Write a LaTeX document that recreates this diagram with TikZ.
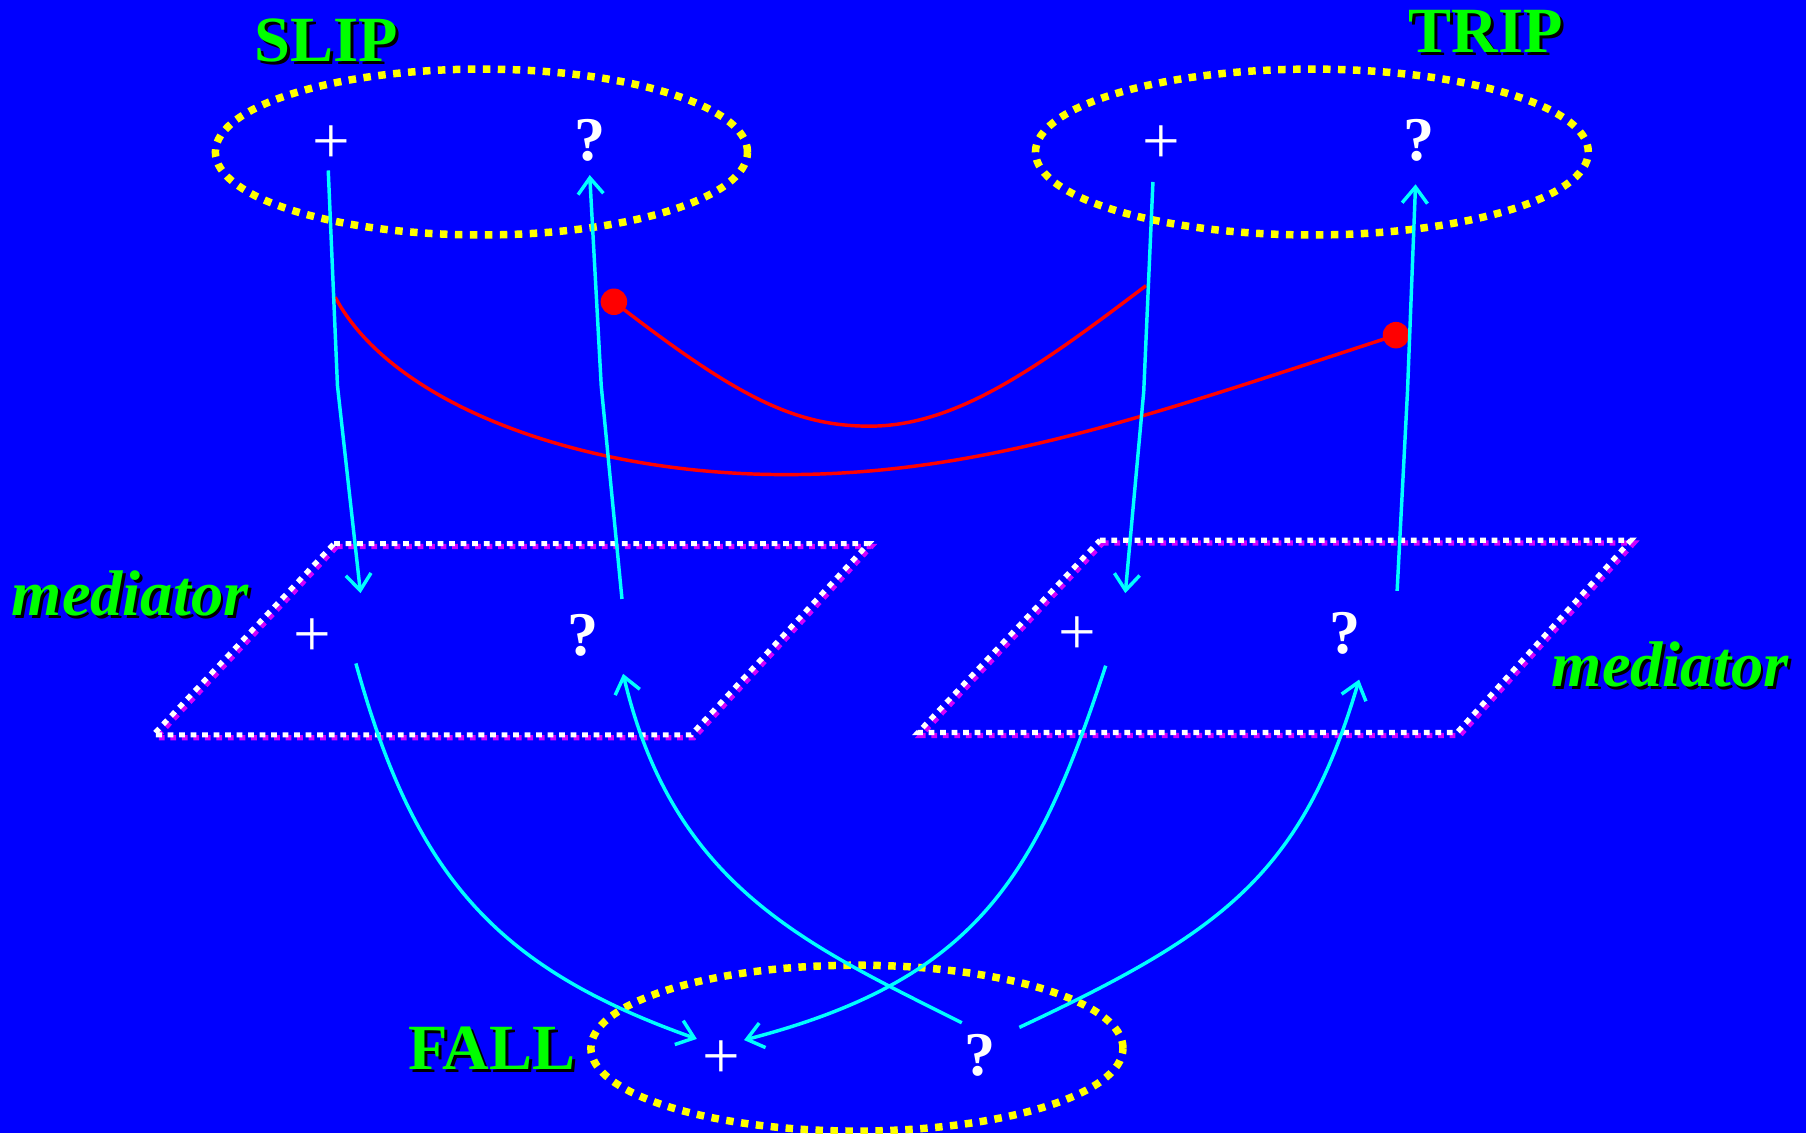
\documentclass[tikz,border=0pt]{standalone}
\usepackage{fontspec}
\setmainfont{Liberation Serif}
\usetikzlibrary{arrows.meta,shapes.geometric}
\definecolor{bg}{RGB}{0,0,255}
\definecolor{cy}{RGB}{0,255,255}
\definecolor{gr}{RGB}{0,255,0}
\definecolor{yl}{RGB}{255,255,0}
\definecolor{rd}{RGB}{255,0,0}
\definecolor{mg}{RGB}{210,0,255}
\tikzset{
  oval/.style={ellipse,draw=yl,line width=6.5pt,dash pattern=on 6.5pt off 6.5pt,minimum width=462pt,minimum height=144pt,inner sep=0pt},
  bigtxt/.style={font=\fontsize{56}{60}\selectfont\bfseries,inner sep=0pt},
  medtxt/.style={font=\fontsize{56}{60}\selectfont\bfseries\itshape,inner sep=0pt},
  grlbl/.style={text=gr},
  shlbl/.style={text=black,xshift=2.5pt,yshift=-2.5pt},
  plus/.style={text=white,font=\fontsize{58}{58}\selectfont,inner sep=0pt},
  qm/.style={text=white,font=\fontsize{54}{54}\selectfont\bfseries,inner sep=0pt},
  cyarr/.style={draw=cy,line width=3pt,-{Straight Barb[length=14pt,width=22pt,line width=3pt]}},
  redl/.style={draw=rd,line width=3pt},
  reddot/.style={circle,fill=rd,minimum size=23pt,inner sep=0pt},
  pshadow/.style={draw=mg,line width=4.5pt,dash pattern=on 5pt off 5pt},
  pfront/.style={draw=white,line width=4.5pt,dash pattern=on 5pt off 5pt},
  sh/.style={xshift=2.5pt,yshift=-2.5pt},
}
\begin{document}
\begin{tikzpicture}[x=1pt,y=-1pt]
\useasboundingbox (0,0) rectangle (1568,984);
\fill[bg] (0,0) rectangle (1568,984);

% parallelograms
\coordinate (L1) at (290,472); \coordinate (L2) at (754,472);
\coordinate (L3) at (600,638); \coordinate (L4) at (133,638);
\coordinate (R1) at (955,469); \coordinate (R2) at (1416,469);
\coordinate (R3) at (1265,636); \coordinate (R4) at (797,636);
\draw[pshadow] ([sh]L1) -- ([sh]L2) -- ([sh]L3) -- ([sh]L4) -- cycle;
\draw[pshadow] ([sh]R1) -- ([sh]R2) -- ([sh]R3) -- ([sh]R4) -- cycle;
\draw[pfront] (L1) -- (L2) -- (L3) -- (L4) -- cycle;
\draw[pfront] (R1) -- (R2) -- (R3) -- (R4) -- cycle;

% ellipses
\node[oval] (slipE) at (418,132) {};
\node[oval,minimum width=480pt] (tripE) at (1139,132) {};
\node[oval] (fallE) at (744,910) {};

% labels
\node[bigtxt,shlbl] at (283,35) {SLIP};
\node[bigtxt,grlbl] (slip) at (283,35) {SLIP};
\node[bigtxt,shlbl] at (1290,27) {TRIP};
\node[bigtxt,grlbl] (trip) at (1290,27) {TRIP};
\node[bigtxt,shlbl] at (427,910) {FALL};
\node[bigtxt,grlbl] (fall) at (427,910) {FALL};
\node[medtxt,shlbl] at (113,515) {mediator};
\node[medtxt,grlbl] (medL) at (113,515) {mediator};
\node[medtxt,shlbl] at (1450,577) {mediator};
\node[medtxt,grlbl] (medR) at (1450,577) {mediator};

% symbols
\node[plus] (sp) at (288,126) {+};
\node[qm] (sq) at (512,122) {?};
\node[plus] (tp) at (1008,126) {+};
\node[qm] (tq) at (1232,122) {?};
\node[plus] (lp) at (271,554) {+};
\node[qm] (lq) at (506,552) {?};
\node[plus] (rp) at (935,552) {+};
\node[qm] (rq) at (1168,550) {?};
\node[plus] (fp) at (626,920) {+};
\node[qm] (fq) at (851,916) {?};

% connector end points
\coordinate (a1s) at (285,148); \coordinate (a1m) at (293,335); \coordinate (a1e) at (313,515);
\coordinate (a2s) at (540,520); \coordinate (a2m) at (522,335); \coordinate (a2e) at (512,152);
\coordinate (a3s) at (1001,158); \coordinate (a3m) at (993,340); \coordinate (a3e) at (977,515);
\coordinate (a4s) at (1213,513); \coordinate (a4m) at (1222,340); \coordinate (a4e) at (1229,160);
\coordinate (a5s) at (309,576); \coordinate (a5e) at (605,902);
\coordinate (a6s) at (835,888); \coordinate (a6e) at (541,585);
\coordinate (a7s) at (960,578); \coordinate (a7e) at (646,903);
\coordinate (a8s) at (885,892); \coordinate (a8e) at (1180,590);

% red curves
\node[reddot] (d1) at (533,262) {};
\node[reddot] (d2) at (1212,291) {};
\coordinate (r1e) at (995,248);
\coordinate (r2s) at (291,258);
\draw[redl] (d1.center) .. controls (640,345) and (690,370) .. (755,370) .. controls (830,370) and (900,320) .. (r1e);
\draw[redl] (r2s) .. controls (340,350) and (500,410) .. (673,412) .. controls (850,414) and (1000,360) .. (d2.center);

% cyan arrows
\draw[cyarr] (a1s) -- (a1m) -- (a1e);
\draw[cyarr] (a2s) -- (a2m) -- (a2e);
\draw[cyarr] (a3s) -- (a3m) -- (a3e);
\draw[cyarr] (a4s) -- (a4m) -- (a4e);
\draw[cyarr] (a5s) .. controls (360,760) and (430,840) .. (a5e);
\draw[cyarr] (a6s) .. controls (700,820) and (585,770) .. (a6e);
\draw[cyarr] (a7s) .. controls (900,760) and (850,850) .. (a7e);
\draw[cyarr] (a8s) .. controls (1060,810) and (1130,760) .. (a8e);
\end{tikzpicture}
\end{document}
